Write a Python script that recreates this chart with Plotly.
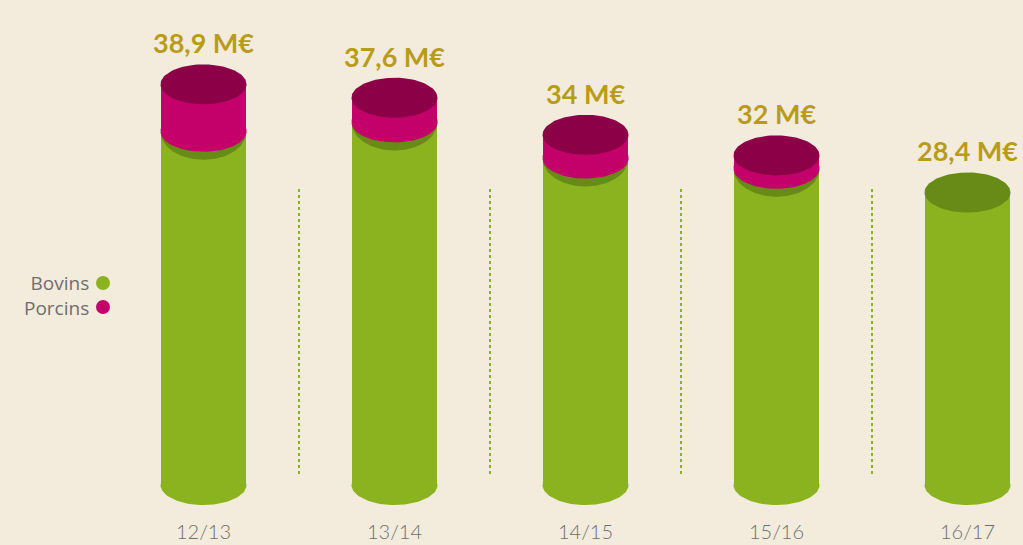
import numpy as np
import plotly.graph_objects as go

# ---- data ----
categories = ["12/13", "13/14", "14/15", "15/16", "16/17"]
bovins = [34.3, 35.2, 31.7, 30.7, 28.4]
porcins = [4.6, 2.4, 2.3, 1.3, 0.0]
total_labels = ["38,9 M€", "37,6 M€", "34 M€", "32 M€", "28,4 M€"]
series_names = ["Bovins", "Porcins"]

# ---- style ----
BG = "#F3ECDC"
GREEN = "#8BB31F"
GREEN_DARK = "#688A16"
MAGENTA = "#C4006B"
MAGENTA_DARK = "#8C0048"
GOLD = "#B89C17"
GREY = "#6E6E6E"

W, H = 1023, 545
MB = 30
plot_h = H - MB
k = 10.3                 # px per unit
y0, y1 = -(plot_h - 485) / k, 485 / k
spacing = 191.0
x0 = -0.5 - 108 / spacing
x1 = x0 + W / spacing
bw = 0.45
a = bw / 2
eh = 20 / k              # ellipse semi-height in data units
eh2 = 28 / k
pad = 3 / k              # small overlap to hide anti-aliasing seams

x = list(range(len(categories)))

fig = go.Figure()
fig.add_trace(go.Bar(x=x, y=bovins, name=series_names[0], width=bw,
                     marker=dict(color=GREEN, line=dict(width=0)),
                     showlegend=False))
fig.add_trace(go.Bar(x=x, y=porcins, base=bovins, name=series_names[1], width=bw,
                     marker=dict(color=MAGENTA, line=dict(width=0)),
                     showlegend=False))


def ellipse(xc, yc, ry, lower=False, up=0.0):
    if lower:
        t = np.linspace(np.pi, 2 * np.pi, 60)
        xs = list(xc + a * np.cos(t))
        ys = list(yc + ry * np.sin(t))
        if up:
            xs = [xc - a] + xs + [xc + a]
            ys = [yc + up] + ys + [yc + up]
        return xs, ys
    t = np.linspace(0, 2 * np.pi, 100)
    return list(xc + a * np.cos(t)), list(yc + ry * np.sin(t))


def add_ell(xs, ys, color):
    fig.add_trace(go.Scatter(x=xs, y=ys, fill="toself", fillcolor=color,
                             mode="lines", line=dict(width=0, color=color),
                             hoverinfo="skip", showlegend=False))


for i in x:
    ex, ey = ellipse(i, 0, eh)
    add_ell(ex, ey, GREEN)
    if porcins[i] > 0:
        ex, ey = ellipse(i, bovins[i], eh2, lower=True)
        add_ell(ex, ey, GREEN_DARK)
        ex, ey = ellipse(i, bovins[i], eh, lower=True, up=pad)
        add_ell(ex, ey, MAGENTA)
        ex, ey = ellipse(i, bovins[i] + porcins[i], eh)
        add_ell(ex, ey, MAGENTA_DARK)
    else:
        ex, ey = ellipse(i, bovins[i], eh)
        add_ell(ex, ey, GREEN_DARK)

# total labels
for i in x:
    fig.add_annotation(x=i, y=bovins[i] + porcins[i], text=total_labels[i],
                       showarrow=False, yanchor="bottom", yshift=eh * k + 3,
                       font=dict(family="Lato", size=27, color=GOLD, weight="bold"))

# dotted separators
for i in x[:-1]:
    fig.add_shape(type="line", xref="x", yref="paper", x0=i + 0.5, x1=i + 0.5,
                  y0=(plot_h - 474) / plot_h, y1=(plot_h - 188) / plot_h,
                  line=dict(color=GREEN, width=2, dash="dot"))

# legend (text + dot on the right)
leg_colors = [GREEN, MAGENTA]
leg_y = [283, 307]
fig.add_annotation(xref="paper", yref="paper", x=91 / W,
                   y=(plot_h - sum(leg_y) / 2) / plot_h,
                   text="<br>".join(series_names), align="right",
                   showarrow=False, xanchor="right", yanchor="middle",
                   font=dict(family="Open Sans", size=19, color=GREY))
for col, py in zip(leg_colors, leg_y):
    fig.add_shape(type="circle", xref="paper", yref="paper",
                  x0=96 / W, x1=110 / W,
                  y0=(plot_h - py - 7) / plot_h, y1=(plot_h - py + 7) / plot_h,
                  line=dict(width=0), fillcolor=col)

fig.update_layout(
    width=W, height=H, margin=dict(l=0, r=0, t=0, b=MB),
    paper_bgcolor=BG, plot_bgcolor=BG, barmode="overlay", bargap=0,
    xaxis=dict(range=[x0, x1], tickvals=x, ticktext=categories, showgrid=False,
               zeroline=False, showline=False, ticks="", fixedrange=True,
               ticklabelstandoff=3,
               tickfont=dict(family="Lato", size=20, color=GREY, weight=300)),
    yaxis=dict(range=[y0, y1], visible=False, fixedrange=True),
    showlegend=False,
)

fig.write_html("out.html", config={"displayModeBar": False},
               post_script="document.body.style.margin='0';"
                           "document.body.style.background='" + BG + "';")
